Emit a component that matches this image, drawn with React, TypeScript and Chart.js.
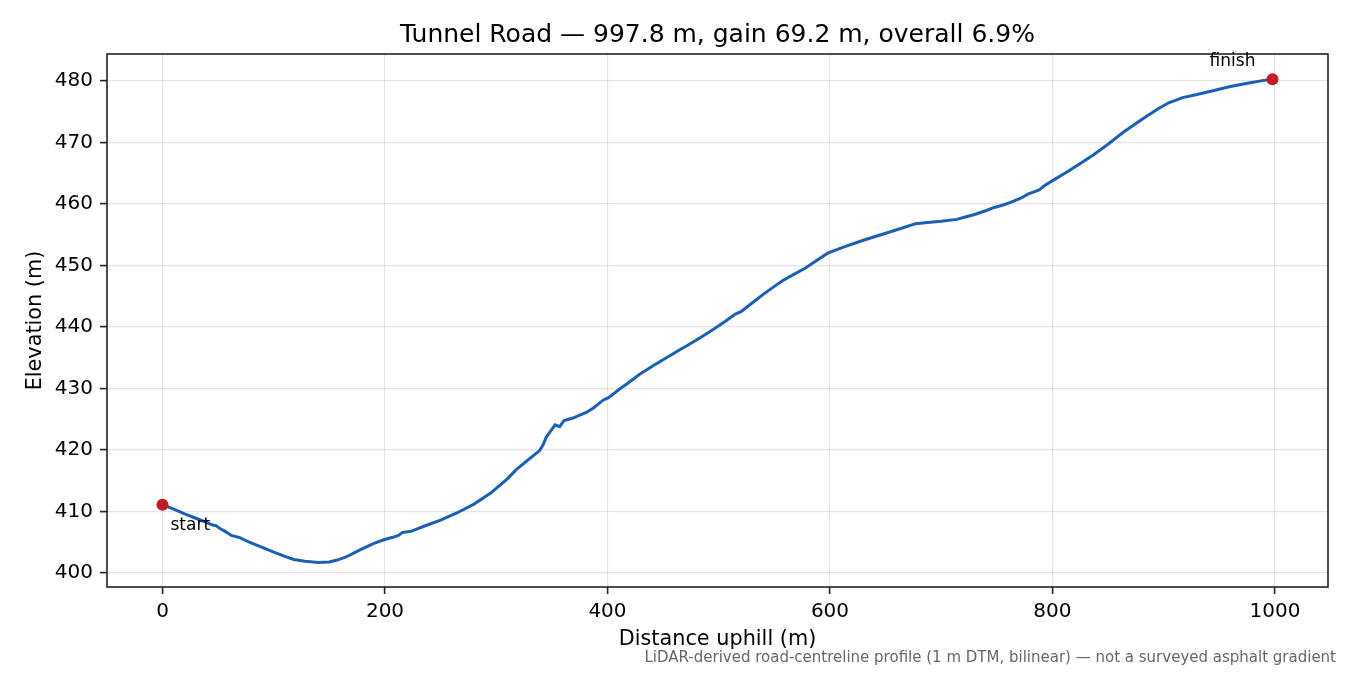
import { useEffect, useRef } from 'react';
import { Chart, registerables, type Plugin } from 'chart.js';

Chart.register(...registerables);

// distance along the road (m) and elevation (m)
const distance = [
  0, 10, 20, 30, 40, 45, 48, 52, 56, 62, 70, 78, 88, 100, 110, 118, 128, 140, 150, 157,
  165, 178, 190, 199, 207, 212, 216, 224, 235, 250, 265, 280, 295, 310, 318, 330, 339, 342,
  345, 349, 353, 357, 361, 365, 369, 374, 381, 387, 392, 396, 401, 410, 417, 429, 441, 453,
  465, 471, 483, 495, 505, 515, 520, 530, 540, 550, 558, 568, 578, 588, 598, 614, 630, 653,
  665, 677, 688, 700, 714, 720, 730, 740, 747, 755, 763, 771, 778, 788, 793, 802, 813, 825,
  837, 849, 864, 875, 884, 895, 905, 910, 917, 930, 946, 960, 974, 990, 997.8,
];
const elevation = [
  411.1, 410.4, 409.6, 408.9, 408.2, 407.8, 407.7, 407.2, 406.8, 406.1, 405.7, 405.0, 404.3,
  403.4, 402.7, 402.2, 401.9, 401.7, 401.8, 402.1, 402.6, 403.8, 404.8, 405.4, 405.8, 406.1,
  406.6, 406.8, 407.6, 408.6, 409.8, 411.2, 413.0, 415.3, 416.8, 418.6, 419.9, 420.8, 422.1,
  423.1, 424.1, 423.8, 424.8, 425.0, 425.2, 425.6, 426.1, 426.8, 427.5, 428.1, 428.5, 429.8,
  430.7, 432.3, 433.7, 435.0, 436.3, 436.9, 438.2, 439.6, 440.8, 442.1, 442.5, 443.9, 445.3,
  446.6, 447.6, 448.6, 449.6, 450.8, 452.0, 453.1, 454.1, 455.4, 456.1, 456.8, 457.0, 457.2,
  457.5, 457.8, 458.3, 458.9, 459.4, 459.8, 460.3, 460.9, 461.6, 462.3, 463.0, 464.0, 465.2,
  466.6, 468.0, 469.6, 471.7, 473.1, 474.2, 475.5, 476.5, 476.8, 477.3, 477.8, 478.5, 479.1,
  479.6, 480.1, 480.3,
];
const endLabels = ['start', 'finish'];
const xTicks = [0, 200, 400, 600, 800, 1000];
const yTicks = [400, 410, 420, 430, 440, 450, 460, 470, 480];

const TITLE = 'Tunnel Road — 997.8 m, gain 69.2 m, overall 6.9%';
const NOTE = 'LiDAR-derived road-centreline profile (1 m DTM, bilinear) — not a surveyed asphalt gradient';
const FONT = '"DejaVu Sans", Verdana, sans-serif';

export default function App() {
  const canvasRef = useRef<HTMLCanvasElement>(null);

  useEffect(() => {
    document.body.style.margin = '0';
    if (!canvasRef.current) return;

    const last = distance.length - 1;
    const ends = [
      { x: distance[0], y: elevation[0] },
      { x: distance[last], y: elevation[last] },
    ];

    const decor: Plugin<'line'> = {
      id: 'decor',
      afterDraw(chart) {
        const { ctx, chartArea: a, scales } = chart;
        ctx.save();
        // frame
        ctx.strokeStyle = '#222';
        ctx.lineWidth = 1.6;
        ctx.strokeRect(a.left, a.top, a.right - a.left, a.bottom - a.top);

        ctx.fillStyle = '#000';
        ctx.textAlign = 'center';
        ctx.textBaseline = 'alphabetic';
        ctx.font = `25px ${FONT}`;
        ctx.fillText(TITLE, (a.left + a.right) / 2, 42);

        ctx.font = `20.8px ${FONT}`;
        ctx.fillText('Distance uphill (m)', (a.left + a.right) / 2, 645);
        ctx.save();
        ctx.translate(41, (a.top + a.bottom) / 2);
        ctx.rotate(-Math.PI / 2);
        ctx.fillText('Elevation (m)', 0, 0);
        ctx.restore();

        // start / finish labels
        ctx.font = `17px ${FONT}`;
        const sx = scales.x.getPixelForValue(ends[0].x);
        const sy = scales.y.getPixelForValue(ends[0].y);
        ctx.textAlign = 'left';
        ctx.fillText(endLabels[0], sx + 8, sy + 25);
        const fx = scales.x.getPixelForValue(ends[1].x);
        const fy = scales.y.getPixelForValue(ends[1].y);
        ctx.textAlign = 'center';
        ctx.fillText(endLabels[1], fx - 40, fy - 13);

        ctx.fillStyle = '#666';
        ctx.font = `15px ${FONT}`;
        ctx.textAlign = 'right';
        ctx.fillText(NOTE, 1336, 662);
        ctx.restore();
      },
    };

    const chart = new Chart(canvasRef.current, {
      type: 'line',
      plugins: [decor],
      data: {
        datasets: [
          {
            data: distance.map((d, i) => ({ x: d, y: elevation[i] })),
            borderColor: '#1a5fb4',
            borderWidth: 3,
            pointRadius: 0,
            tension: 0,
            order: 2,
          },
          {
            data: ends,
            showLine: false,
            pointRadius: 6,
            pointBackgroundColor: '#c01c28',
            pointBorderColor: '#c01c28',
            pointBorderWidth: 0,
            order: 1,
          },
        ],
      },
      options: {
        responsive: false,
        animation: false,
        events: [],
        layout: { padding: { left: 0, right: 22, top: 54, bottom: 0 } },
        plugins: {
          legend: { display: false },
          title: { display: false },
          tooltip: { enabled: false },
        },
        scales: {
          x: {
            type: 'linear',
            min: -49.89,
            max: 1047.69,
            afterBuildTicks: (s) => { s.ticks = xTicks.map((v) => ({ value: v })); },
            afterFit: (s) => { s.height = 88; },
            border: { display: false },
            grid: {
              color: 'rgba(0,0,0,0.1)',
              lineWidth: 1.2,
              tickColor: '#222',
              tickLength: 7,
              tickWidth: 1.6,
            },
            ticks: {
              color: '#000',
              font: { family: FONT, size: 20 },
              padding: 6,
              maxRotation: 0,
              callback: (v) => String(v),
            },
          },
          y: {
            type: 'linear',
            min: 397.72,
            max: 484.39,
            afterBuildTicks: (s) => { s.ticks = yTicks.map((v) => ({ value: v })); },
            afterFit: (s) => { s.width = 107; },
            border: { display: false },
            grid: {
              color: 'rgba(0,0,0,0.1)',
              lineWidth: 1.2,
              tickColor: '#222',
              tickLength: 7,
              tickWidth: 1.6,
            },
            ticks: {
              color: '#000',
              font: { family: FONT, size: 20 },
              padding: 7,
              callback: (v) => String(v),
            },
          },
        },
      },
    });

    return () => chart.destroy();
  }, []);

  return (
    <div style={{ width: 1350, height: 675, background: '#fff' }}>
      <canvas ref={canvasRef} width={1350} height={675} />
    </div>
  );
}
